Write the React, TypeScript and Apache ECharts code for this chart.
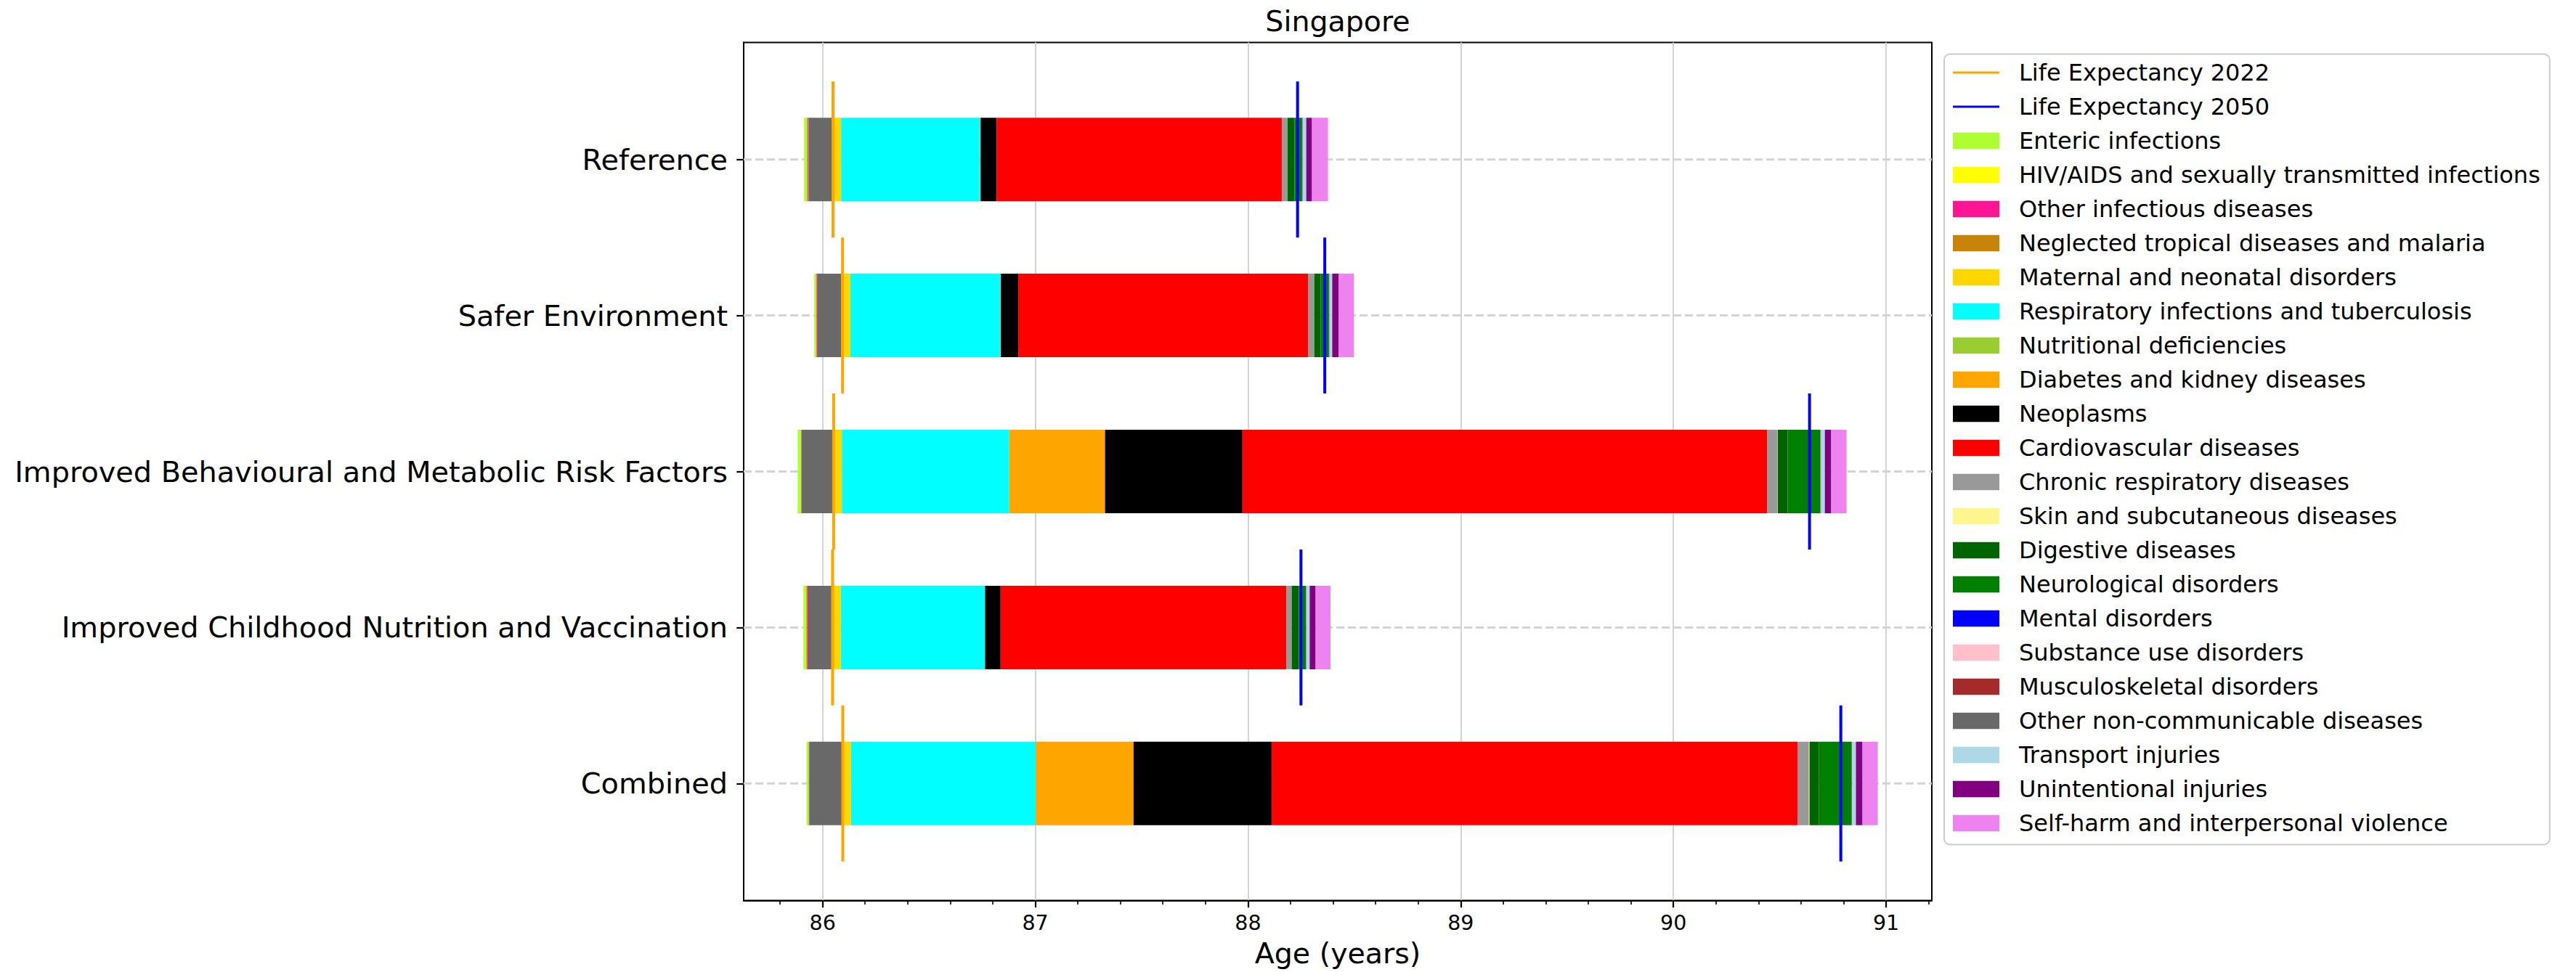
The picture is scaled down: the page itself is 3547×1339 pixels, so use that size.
import React, { useEffect, useRef } from "react";
import * as echarts from "echarts";

// ---------------- data ----------------
const TITLE = "Singapore";
const X_NAME = "Age (years)";
const SCENARIOS = [
  "Reference",
  "Safer Environment",
  "Improved Behavioural and Metabolic Risk Factors",
  "Improved Childhood Nutrition and Vaccination",
  "Combined",
];
const X_TICKS = [86, 87, 88, 89, 90, 91];

const LE_2022 = [86.049, 86.094, 86.052, 86.047, 86.095];
const LE_2050 = [88.233, 88.361, 90.64, 88.249, 90.787];
const BAR_START = [85.913, 85.961, 85.883, 85.91, 85.925];

// contributions (years) per scenario, in SCENARIOS order
const ENTERIC = [0.014, 0.009, 0.016, 0.014, 0.01];
const HIV = [0, 0, 0, 0, 0];
const OTHER_INFECTIOUS = [0.003, 0.004, 0.001, 0.004, 0.001];
const NTD_MALARIA = [0.005, 0.003, 0.001, 0.005, 0.001];
const MATERNAL = [0.044, 0.044, 0.045, 0.043, 0.043];
const RESPIRATORY = [0.654, 0.706, 0.787, 0.677, 0.868];
const NUTRITIONAL = [0, 0, 0, 0, 0];
const DIABETES = [0.002, 0.001, 0.45, 0.001, 0.46];
const NEOPLASMS = [0.075, 0.082, 0.646, 0.073, 0.649];
const CARDIO = [1.341, 1.362, 2.466, 1.343, 2.474];
const CHRONIC_RESP = [0.025, 0.028, 0.05, 0.024, 0.052];
const SKIN = [0.001, 0.001, 0.001, 0.001, 0.003];
const DIGESTIVE = [0.034, 0.03, 0.046, 0.034, 0.043];
const NEURO = [0.035, 0.039, 0.154, 0.034, 0.155];
const MENTAL = [0.002, 0.002, 0.001, 0.001, 0.001];
const SUBSTANCE = [0.001, 0.001, 0.002, 0.001, 0.001];
const MUSCULO = [0.001, 0.001, 0.001, 0.001, 0.001];
const OTHER_NCD = [0.108, 0.11, 0.145, 0.11, 0.154];
const TRANSPORT = [0.016, 0.012, 0.017, 0.014, 0.017];
const UNINTENTIONAL = [0.027, 0.031, 0.03, 0.028, 0.031];
const SELF_HARM = [0.075, 0.071, 0.072, 0.07, 0.072];

// legend order
const CAUSES = [
  "Enteric infections",
  "HIV/AIDS and sexually transmitted infections",
  "Other infectious diseases",
  "Neglected tropical diseases and malaria",
  "Maternal and neonatal disorders",
  "Respiratory infections and tuberculosis",
  "Nutritional deficiencies",
  "Diabetes and kidney diseases",
  "Neoplasms",
  "Cardiovascular diseases",
  "Chronic respiratory diseases",
  "Skin and subcutaneous diseases",
  "Digestive diseases",
  "Neurological disorders",
  "Mental disorders",
  "Substance use disorders",
  "Musculoskeletal disorders",
  "Other non-communicable diseases",
  "Transport injuries",
  "Unintentional injuries",
  "Self-harm and interpersonal violence",
];
const CAUSE_VALUES = [
  ENTERIC, HIV, OTHER_INFECTIOUS, NTD_MALARIA, MATERNAL, RESPIRATORY, NUTRITIONAL,
  DIABETES, NEOPLASMS, CARDIO, CHRONIC_RESP, SKIN, DIGESTIVE, NEURO, MENTAL,
  SUBSTANCE, MUSCULO, OTHER_NCD, TRANSPORT, UNINTENTIONAL, SELF_HARM,
];
const CAUSE_COLORS = [
  "#ADFF2F", "#FFFF00", "#FF1493", "#C88408", "#FFD700", "#00FFFF", "#9ACD32",
  "#FFA500", "#000000", "#FF0000", "#999999", "#FFF68F", "#006400", "#008000",
  "#0000FF", "#FFC0CB", "#A52A2A", "#696969", "#ADD8E6", "#800080", "#EE82EE",
];
// left-to-right stacking order of the segments
const STACK_ORDER = [
  "Enteric infections",
  "Neglected tropical diseases and malaria",
  "Other infectious diseases",
  "HIV/AIDS and sexually transmitted infections",
  "Nutritional deficiencies",
  "Other non-communicable diseases",
  "Maternal and neonatal disorders",
  "Respiratory infections and tuberculosis",
  "Diabetes and kidney diseases",
  "Neoplasms",
  "Cardiovascular diseases",
  "Chronic respiratory diseases",
  "Skin and subcutaneous diseases",
  "Digestive diseases",
  "Neurological disorders",
  "Mental disorders",
  "Substance use disorders",
  "Musculoskeletal disorders",
  "Transport injuries",
  "Unintentional injuries",
  "Self-harm and interpersonal violence",
];

// ---------------- style ----------------
const FONT = "DejaVu Sans";
const BAR_HEIGHT = 0.535;
const LINE_HALF = 0.5;
const LE_2022_COLOR = "#FFA500";
const LE_2050_COLOR = "#0000FF";
const LINE_ICON = "path://M0,0M64,22.5M0,9.75H64V12.75H0Z";

function buildOption() {
  const cursor = BAR_START.slice();
  const barSeries: any[] = [];
  STACK_ORDER.forEach((name) => {
    const idx = CAUSES.indexOf(name);
    const vals = CAUSE_VALUES[idx];
    const data = SCENARIOS.map((_, i) => {
      const s = cursor[i];
      const e = s + vals[i];
      cursor[i] = e;
      return [s, e, i];
    });
    barSeries.push({
      type: "custom",
      name,
      z: 3,
      silent: true,
      itemStyle: { color: CAUSE_COLORS[idx] },
      encode: { x: [0, 1], y: 2 },
      renderItem: (params: any, api: any) => {
        const y = api.value(2);
        const p0 = api.coord([api.value(0), y]);
        const p1 = api.coord([api.value(1), y]);
        const h = api.size([0, BAR_HEIGHT])[1];
        return {
          type: "rect",
          shape: { x: p0[0], y: p0[1] - h / 2, width: Math.max(p1[0] - p0[0], 0), height: h },
          style: { fill: api.visual("color") },
        };
      },
      data,
    });
  });

  const lo = Math.min(...BAR_START);
  const hi = Math.max(...cursor);
  const pad = 0.05 * (hi - lo);
  const AX_MIN = lo - pad;
  const AX_MAX = hi + pad;

  const catLines = {
    type: "custom",
    name: "_grid",
    z: 1,
    silent: true,
    encode: { x: 0, y: 1 },
    renderItem: (params: any, api: any) => {
      const cs = params.coordSys;
      const p = api.coord([AX_MIN, api.value(1)]);
      return {
        type: "line",
        shape: { x1: cs.x, y1: p[1], x2: cs.x + cs.width, y2: p[1] },
        style: { stroke: "#d3d3d3", lineWidth: 3, lineDash: [11, 5] },
      };
    },
    data: SCENARIOS.map((_, i) => [AX_MIN, i]),
  };

  const leSeries: any[] = [];
  SCENARIOS.forEach((_, i) => {
    leSeries.push({
      type: "line",
      name: "Life Expectancy 2022",
      z: 5,
      silent: true,
      symbol: "none",
      color: LE_2022_COLOR,
      lineStyle: { color: LE_2022_COLOR, width: 4 },
      data: [[LE_2022[i], i - LINE_HALF], [LE_2022[i], i + LINE_HALF]],
    });
    leSeries.push({
      type: "line",
      name: "Life Expectancy 2050",
      z: 5,
      silent: true,
      symbol: "none",
      color: LE_2050_COLOR,
      lineStyle: { color: LE_2050_COLOR, width: 4 },
      data: [[LE_2050[i], i - LINE_HALF], [LE_2050[i], i + LINE_HALF]],
    });
  });

  const catIdx = SCENARIOS.map((_, i) => i);

  return {
    animation: false,
    backgroundColor: "#ffffff",
    title: {
      text: TITLE,
      left: 1842,
      top: 9,
      padding: 0,
      textAlign: "center",
      textStyle: { fontFamily: FONT, fontSize: 39.5, fontWeight: "normal", color: "#000", lineHeight: 40 },
    },
    grid: {
      left: 1024,
      top: 58.5,
      width: 1636,
      height: 1182,
      show: true,
      borderColor: "#000",
      borderWidth: 2,
      backgroundColor: "transparent",
    },
    legend: {
      orient: "vertical",
      left: 2677,
      top: 74.5,
      itemWidth: 64,
      itemHeight: 22.5,
      itemGap: 12,
      padding: [8, 13, 12, 12],
      backgroundColor: "rgba(255,255,255,0.8)",
      borderColor: "#cccccc",
      borderWidth: 2,
      borderRadius: 8,
      selectedMode: false,
      textStyle: { fontFamily: FONT, fontSize: 32, color: "#000", lineHeight: 35, padding: [0, 0, 0, 22] },
      data: [
        { name: "Life Expectancy 2022", icon: LINE_ICON },
        { name: "Life Expectancy 2050", icon: LINE_ICON },
        ...CAUSES.map((n) => ({ name: n, icon: "rect" })),
      ],
    },
    xAxis: {
      type: "value",
      min: AX_MIN,
      max: AX_MAX,
      minInterval: 1,
      maxInterval: 1,
      name: X_NAME,
      nameLocation: "middle",
      nameGap: 52,
      nameTextStyle: { fontFamily: FONT, fontSize: 39.5, color: "#000" },
      axisLine: { show: true, onZero: false, lineStyle: { color: "#000", width: 2 } },
      axisTick: { show: true, length: 9.7, lineStyle: { color: "#000", width: 2.2 }, customValues: X_TICKS },
      axisLabel: { fontFamily: FONT, fontSize: 28.5, color: "#000", margin: 16, customValues: X_TICKS },
      minorTick: { show: true, splitNumber: 5, length: 5.6, lineStyle: { color: "#000", width: 1.6 } },
      splitLine: { show: true, lineStyle: { color: "#d3d3d3", width: 2 } },
      minorSplitLine: { show: false },
    },
    yAxis: {
      type: "value",
      min: -0.75,
      max: 4.75,
      inverse: true,
      axisLine: { show: true, onZero: false, lineStyle: { color: "#000", width: 2 } },
      axisTick: { show: true, length: 9.7, lineStyle: { color: "#000", width: 2.2 }, customValues: catIdx },
      axisLabel: {
        customValues: catIdx,
        formatter: (v: number) => (Number.isInteger(v) && SCENARIOS[v] ? SCENARIOS[v] : ""),
        fontFamily: FONT,
        fontSize: 39.8,
        color: "#000",
        margin: 22,
      },
      splitLine: { show: false },
    },
    series: [catLines, ...barSeries, ...leSeries],
  };
}

export default function App() {
  const ref = useRef<HTMLDivElement>(null);
  useEffect(() => {
    if (!ref.current) return;
    const chart = echarts.init(ref.current, undefined, { renderer: "svg" });
    chart.setOption(buildOption() as any);
    return () => chart.dispose();
  }, []);
  return (
    <div
      ref={ref}
      style={{ position: "fixed", left: 0, top: 0, width: 3547, height: 1339, background: "#fff" }}
    />
  );
}
